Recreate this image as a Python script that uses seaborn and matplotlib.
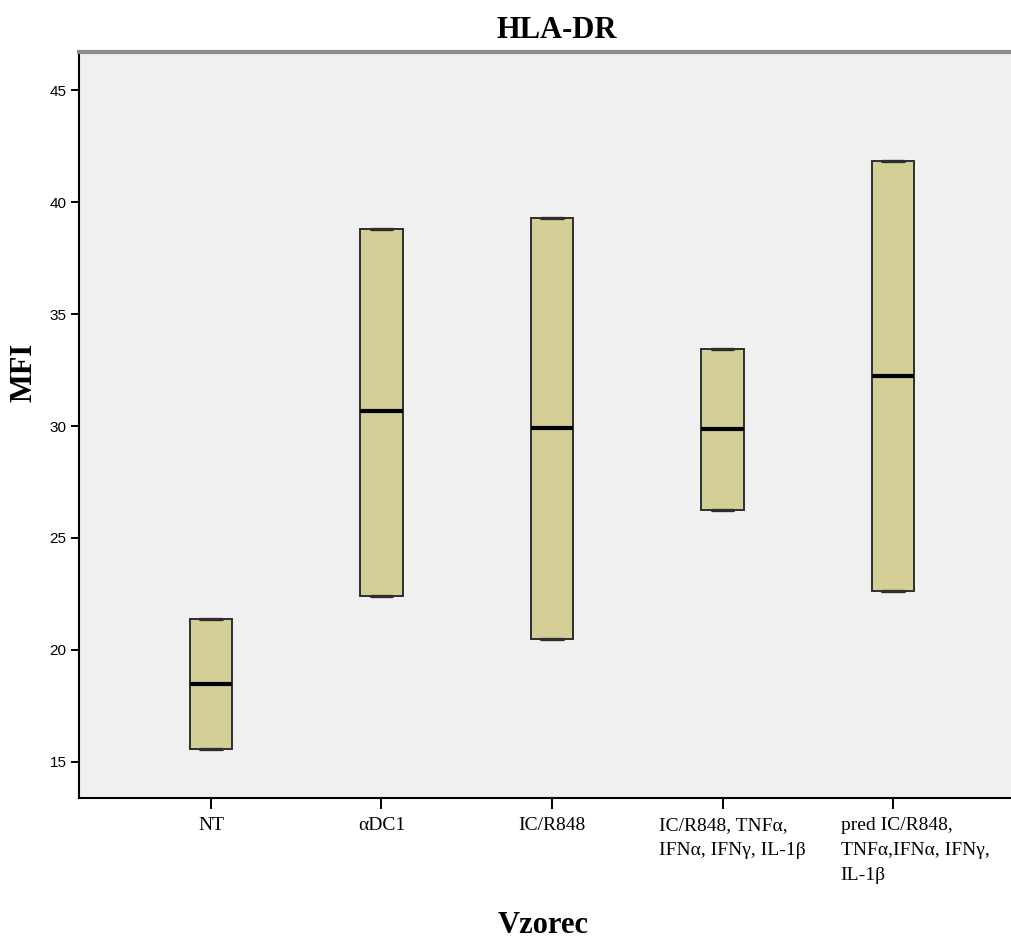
import matplotlib
matplotlib.use("Agg")
import matplotlib.pyplot as plt
import matplotlib.transforms as mtransforms
import seaborn as sns
import pandas as pd

# Five-number summaries of HLA-DR MFI per sample group
categories = [
    "NT",
    "αDC1",
    "IC/R848",
    "IC/R848, TNFα,\nIFNα, IFNγ, IL-1β",
    "pred IC/R848,\nTNFα,IFNα, IFNγ,\nIL-1β",
]
mins = [15.58, 22.41, 20.49, 26.25, 22.63]
q1s = [15.58, 22.41, 20.49, 26.25, 22.63]
medians = [18.48, 30.67, 29.91, 29.87, 32.23]
q3s = [21.38, 38.80, 39.29, 33.44, 41.83]
maxs = [21.38, 38.80, 39.29, 33.44, 41.83]
y_ticks = [15, 20, 25, 30, 35, 40, 45]

rows = []
for cat, a, b, c, d, e in zip(categories, mins, q1s, medians, q3s, maxs):
    for v in (a, b, c, d, e):
        rows.append({"Vzorec": cat, "MFI": v})
df = pd.DataFrame(rows)

sns.set_style("white")
plt.rcParams["font.family"] = ["Liberation Serif", "DejaVu Serif"]
plt.rcParams["text.color"] = "black"
plt.rcParams["xtick.color"] = "black"
plt.rcParams["ytick.color"] = "black"

W, H = 1012, 938
fig = plt.figure(figsize=(W / 100, H / 100), dpi=100)
left_px, right_px, top_px, bottom_px = 79, 1025, 52, 798
ax = fig.add_axes([left_px / W, 1 - bottom_px / H,
                   (right_px - left_px) / W, (bottom_px - top_px) / H])
ax.set_facecolor("#F0F0F0")

sns.boxplot(
    data=df, x="Vzorec", y="MFI", order=categories, ax=ax,
    width=0.25, whis=(0, 100), saturation=1, color="#D3CF97",
    linecolor="#2e2e2e", linewidth=1.4,
    medianprops=dict(color="black", linewidth=3),
    capprops=dict(color="#2e2e2e", linewidth=2.4),
    showfliers=False,
)

ax.set_xlim(-0.774, 4.774)
ax.set_ylim(13.39, 46.70)
ax.set_yticks(y_ticks)
ax.set_yticklabels([str(t) for t in y_ticks], fontfamily="Liberation Sans",
                   fontsize=11)
ax.set_xticks(range(len(categories)))
ax.set_xticklabels(categories, fontsize=14, multialignment="left",
                   linespacing=1.6)
ax.tick_params(axis="y", direction="out", length=6, width=1.4, pad=3,
               colors="black", left=True)
ax.tick_params(axis="x", direction="out", length=8, width=1.4, pad=6,
               colors="black", bottom=True)
ax.set_xlabel("")
ax.set_ylabel("")

# nudge the wrapped group labels to the right of their ticks
shifts_px = [0, 0, 0, 10, 22]
for lab, dx in zip(ax.get_xticklabels(), shifts_px):
    if dx:
        lab.set_transform(lab.get_transform() + mtransforms.ScaledTranslation(
            dx / 100, 0, fig.dpi_scale_trans))

for side in ("left", "bottom"):
    ax.spines[side].set_color("black")
    ax.spines[side].set_linewidth(1.5)
ax.spines["top"].set_color("#8c8c8c")
ax.spines["top"].set_linewidth(3)
ax.spines["right"].set_visible(False)

fig.text(557 / W, 1 - 30 / H, "HLA-DR", ha="center", va="center",
         fontsize=22, fontweight="bold", color="black")
fig.text(543 / W, 1 - 925 / H, "Vzorec", ha="center", va="center",
         fontsize=22, fontweight="bold", color="black")
fig.text(24 / W, 1 - 372 / H, "MFI", ha="center", va="center",
         rotation=90, fontsize=22, fontweight="bold", color="black")

fig.savefig("out.png", dpi=100, facecolor="white")
